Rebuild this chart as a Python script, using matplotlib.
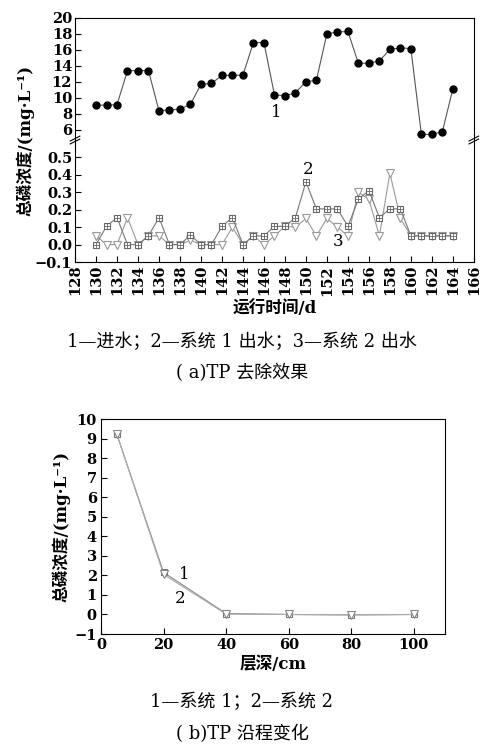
import numpy as np
import matplotlib
matplotlib.use('Agg')
import matplotlib.pyplot as plt

plt.rcParams['font.family'] = ['DejaVu Serif', 'Noto Sans CJK SC']
plt.rcParams['axes.unicode_minus'] = True

# Data (a): TP removal over time
days = np.arange(130, 165)
inflow = [9.1, 9.1, 9.15, 13.4, 13.4, 13.4, 8.4, 8.5, 8.6, 9.2,
          11.7, 11.8, 12.8, 12.8, 12.85, 16.9, 16.9, 10.4, 10.25, 10.65,
          12.0, 12.2, 18.0, 18.2, 18.3, 14.3, 14.35, 14.6, 16.05, 16.25,
          16.15, 5.45, 5.45, 5.8, 11.1]
sys1_out = [0.0, 0.105, 0.155, 0.0, 0.0, 0.05, 0.155, 0.0, 0.0, 0.055,
            0.0, 0.0, 0.105, 0.155, 0.0, 0.05, 0.05, 0.105, 0.105, 0.155,
            0.36, 0.205, 0.205, 0.205, 0.105, 0.26, 0.31, 0.155, 0.205, 0.205,
            0.05, 0.05, 0.05, 0.05, 0.05]
sys2_out = [0.05, 0.0, 0.0, 0.155, 0.0, 0.05, 0.05, 0.0, 0.0, 0.025,
            0.0, 0.0, 0.0, 0.1, 0.0, 0.05, 0.0, 0.05, 0.105, 0.1,
            0.15, 0.05, 0.15, 0.1, 0.05, 0.3, 0.26, 0.05, 0.41, 0.15,
            0.05, 0.05, 0.05, 0.05, 0.05]

# Data (b): TP along depth
depth = [5, 20, 40, 60, 80, 100]
depth_sys1 = [9.25, 2.15, 0.05, 0.0, -0.02, 0.0]
depth_sys2 = [9.25, 2.05, 0.02, 0.0, -0.02, 0.0]

ylabel = '总磷浓度/(mg·L⁻¹)'
tickfont = dict(fontsize=10.5, fontweight='bold')
capsize = 13

fig = plt.figure(figsize=(4.84, 7.44), dpi=100)

ax1 = fig.add_axes([0.155, 0.8118, 0.824, 0.1644])
ax2 = fig.add_axes([0.155, 0.6478, 0.824, 0.1640])

# upper part: inflow
ax1.plot(days, inflow, color='#555555', lw=0.8, marker='o', ms=5,
         mfc='black', mec='black')
ax1.set_xlim(128, 166)
ax1.set_ylim(4.75, 20)
ax1.set_yticks(np.arange(6, 21, 2))
ax1.set_yticklabels([str(v) for v in range(6, 21, 2)], **tickfont)
ax1.spines['bottom'].set_visible(False)
ax1.tick_params(axis='x', which='both', bottom=False, labelbottom=False)
ax1.tick_params(axis='y', direction='in', length=4, right=False, pad=2)
ax1.text(147.2, 8.2, '1', ha='center', va='center', fontsize=12)

# lower part: effluent
ax2.plot(days, sys1_out, color='#777777', lw=0.8, marker='s', ms=3.8,
         mfc='white', mec='#666666', mew=0.8, zorder=3)
ax2.plot(days, sys1_out, ls='none', marker='+', ms=3.8, mec='#666666',
         mew=0.6, zorder=4)
ax2.plot(days, sys2_out, color='#9a9a9a', lw=0.8, marker='v', ms=6,
         mfc='white', mec='#999999', mew=0.8, zorder=2)
ax2.set_xlim(128, 166)
ax2.set_ylim(-0.1, 0.6)
ax2.set_yticks(np.arange(-0.1, 0.51, 0.1))
ax2.set_yticklabels(['−0.1', '0.0', '0.1', '0.2', '0.3', '0.4', '0.5'], **tickfont)
ax2.set_xticks(np.arange(128, 167, 2))
ax2.set_xticklabels([str(v) for v in range(128, 167, 2)], rotation=90, **tickfont)
ax2.spines['top'].set_visible(False)
ax2.tick_params(direction='in', length=4, pad=2)
ax2.set_xlabel('运行时间/d', fontsize=12, fontweight='bold', labelpad=3)
ax2.text(150.2, 0.43, '2', ha='center', va='center', fontsize=12)
ax2.text(153.1, 0.015, '3', ha='center', va='center', fontsize=12)

# break marks
for xb in (0, 1):
    for dy in (-0.012, 0.012):
        ax2.plot([xb - 0.012, xb + 0.012], [1 + dy - 0.02, 1 + dy + 0.02],
                 transform=ax2.transAxes, color='black', lw=0.8, clip_on=False)

fig.text(0.052, 0.8118, ylabel, rotation=90, ha='center', va='center',
         fontsize=12, fontweight='bold')
fig.text(0.5, 0.54, '1—进水；2—系统 1 出水；3—系统 2 出水', ha='center',
         va='center', fontsize=capsize)
fig.text(0.5, 0.499, '( a)TP 去除效果', ha='center', va='center', fontsize=capsize)

# panel (b)
ax3 = fig.add_axes([0.2087, 0.1478, 0.711, 0.289])
ax3.plot(depth, depth_sys1, color='#888888', lw=0.8, marker='s', ms=4,
         mfc='white', mec='#777777', mew=0.8, zorder=2)
ax3.plot(depth, depth_sys2, color='#aaaaaa', lw=0.8, marker='v', ms=5.5,
         mfc='white', mec='#888888', mew=0.8, zorder=3)
ax3.set_xlim(0, 110)
ax3.set_ylim(-1, 10)
ax3.set_xticks(np.arange(0, 101, 20))
ax3.set_yticks(np.arange(-1, 11, 1))
ax3.set_xticklabels([str(v) for v in range(0, 101, 20)], **tickfont)
ax3.set_yticklabels(['−1'] + [str(v) for v in range(0, 11)], **tickfont)
ax3.tick_params(direction='in', length=4, pad=3, top=False, right=False)
ax3.set_xlabel('层深/cm', fontsize=12, fontweight='bold', labelpad=3)
ax3.set_ylabel(ylabel, fontsize=12, fontweight='bold', labelpad=3)
ax3.text(26.5, 2.05, '1', ha='center', va='center', fontsize=12)
ax3.text(25.2, 0.8, '2', ha='center', va='center', fontsize=12)

fig.text(0.5, 0.0565, '1—系统 1；2—系统 2', ha='center', va='center', fontsize=capsize)
fig.text(0.5, 0.0134, '( b)TP 沿程变化', ha='center', va='center', fontsize=capsize)

fig.savefig('out.png', dpi=100)
